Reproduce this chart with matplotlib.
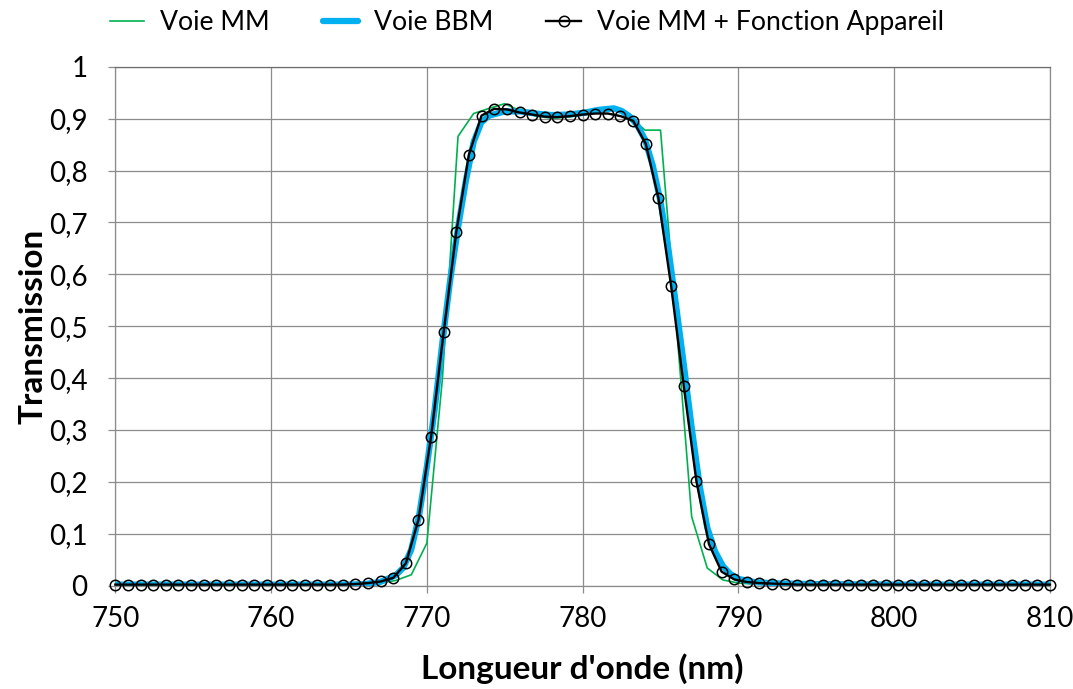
import matplotlib
matplotlib.use('Agg')
import matplotlib.pyplot as plt
from matplotlib.ticker import FuncFormatter

plt.rcParams['font.family'] = ['Lato', 'DejaVu Sans']

# Voie MM + Fonction Appareil (black, markers) - 75 points, 750..810 nm
x_app = [750.00, 750.81, 751.62, 752.43, 753.24, 754.05, 754.86, 755.68, 756.49, 757.30,
         758.11, 758.92, 759.73, 760.54, 761.35, 762.16, 762.97, 763.78, 764.59, 765.41,
         766.22, 767.03, 767.84, 768.65, 769.46, 770.27, 771.08, 771.89, 772.70, 773.51,
         774.32, 775.14, 775.95, 776.76, 777.57, 778.38, 779.19, 780.00, 780.81, 781.62,
         782.43, 783.24, 784.05, 784.86, 785.68, 786.49, 787.30, 788.11, 788.92, 789.73,
         790.54, 791.35, 792.16, 792.97, 793.78, 794.59, 795.41, 796.22, 797.03, 797.84,
         798.65, 799.46, 800.27, 801.08, 801.89, 802.70, 803.51, 804.32, 805.14, 805.95,
         806.76, 807.57, 808.38, 809.19, 810.00]
y_app = [0.002, 0.002, 0.002, 0.002, 0.002, 0.002, 0.002, 0.002, 0.002, 0.002,
         0.002, 0.002, 0.002, 0.002, 0.002, 0.002, 0.002, 0.002, 0.002, 0.003,
         0.005, 0.008, 0.015, 0.043, 0.127, 0.287, 0.489, 0.682, 0.831, 0.906,
         0.919, 0.918, 0.912, 0.908, 0.904, 0.903, 0.905, 0.908, 0.910, 0.910,
         0.905, 0.896, 0.852, 0.748, 0.578, 0.385, 0.202, 0.080, 0.027, 0.012,
         0.007, 0.005, 0.004, 0.003, 0.002, 0.002, 0.002, 0.002, 0.002, 0.002,
         0.002, 0.002, 0.002, 0.002, 0.002, 0.002, 0.002, 0.002, 0.002, 0.002,
         0.002, 0.002, 0.002, 0.002, 0.002]

# Voie MM (green)
x_mm = [750, 755, 760, 765, 766, 767, 768, 769, 770, 771, 772, 773, 774, 775, 776,
        777, 778, 779, 780, 781, 782, 783, 784, 785, 786, 787, 788, 789, 790, 791,
        792, 800, 810]
y_mm = [0.002, 0.002, 0.002, 0.002, 0.003, 0.005, 0.010, 0.021, 0.082, 0.400, 0.866, 0.910,
        0.920, 0.929, 0.915, 0.905, 0.901, 0.903, 0.907, 0.913, 0.922, 0.905, 0.878, 0.878,
        0.510, 0.133, 0.034, 0.011, 0.005, 0.003, 0.002, 0.002, 0.002]

# Voie BBM (blue)
x_bbm = [750, 755, 760, 765, 766, 767, 768, 768.5, 769, 769.5, 770, 770.5, 771, 771.5,
         772, 772.5, 773, 773.5, 774, 775, 776, 777, 778, 779, 780, 781, 782, 782.5,
         783, 783.5, 784, 784.5, 785, 785.5, 786, 786.5, 787, 787.5, 788, 788.5, 789,
         789.5, 790, 791, 792, 793, 795, 800, 810]
y_bbm = [0.002, 0.002, 0.002, 0.002, 0.003, 0.007, 0.020, 0.035, 0.070, 0.135, 0.230, 0.340,
         0.470, 0.590, 0.690, 0.780, 0.855, 0.893, 0.906, 0.914, 0.914, 0.910, 0.907, 0.908,
         0.911, 0.917, 0.920, 0.915, 0.905, 0.888, 0.860, 0.810, 0.740, 0.650, 0.540, 0.425,
         0.305, 0.195, 0.112, 0.066, 0.038, 0.022, 0.013, 0.007, 0.005, 0.004, 0.003, 0.002,
         0.002]

x_ticks = [750, 760, 770, 780, 790, 800, 810]
y_ticks = [0, 0.1, 0.2, 0.3, 0.4, 0.5, 0.6, 0.7, 0.8, 0.9, 1]

fig = plt.figure(figsize=(10.73, 6.89), dpi=100)
ax = fig.add_axes([0.1075, 0.150, 0.871, 0.753])

ax.plot(x_mm, y_mm, color='#00B050', lw=1.2, label='Voie MM', zorder=3)
ax.plot(x_bbm, y_bbm, color='#00B0F0', lw=4.5, label='Voie BBM', zorder=4,
        solid_capstyle='round')
ax.plot(x_app, y_app, color='black', lw=1.7, marker='o', markersize=7.5,
        markerfacecolor='none', markeredgecolor='black', markeredgewidth=1.1,
        label='Voie MM + Fonction Appareil', zorder=5, clip_on=False)

ax.set_xlim(750, 810)
ax.set_ylim(0, 1)
ax.set_xticks(x_ticks)
ax.set_yticks(y_ticks)
ax.yaxis.set_major_formatter(FuncFormatter(lambda v, p: ('%g' % v).replace('.', ',')))
ax.grid(True, color='#8c8c8c', lw=0.9)
ax.set_axisbelow(True)
for s in ax.spines.values():
    s.set_color('#8c8c8c')
    s.set_linewidth(0.9)
ax.spines['top'].set_color('#6e6e6e')
ax.tick_params(axis='both', direction='out', length=5, width=0.9, color='#8c8c8c',
               labelsize=20)
ax.tick_params(axis='y', pad=15)
ax.tick_params(axis='x', pad=10)

ax.set_xlabel("Longueur d'onde (nm)", fontsize=24, fontweight='bold', labelpad=15)
ax.set_ylabel('Transmission', fontsize=24, fontweight='bold', labelpad=1)

fig.legend(loc='upper center', bbox_to_anchor=(0.491, 1.02), ncol=3, frameon=False,
           fontsize=19.2, handlelength=1.3, columnspacing=2.0, handletextpad=0.6)

fig.savefig('out.png', dpi=100)
